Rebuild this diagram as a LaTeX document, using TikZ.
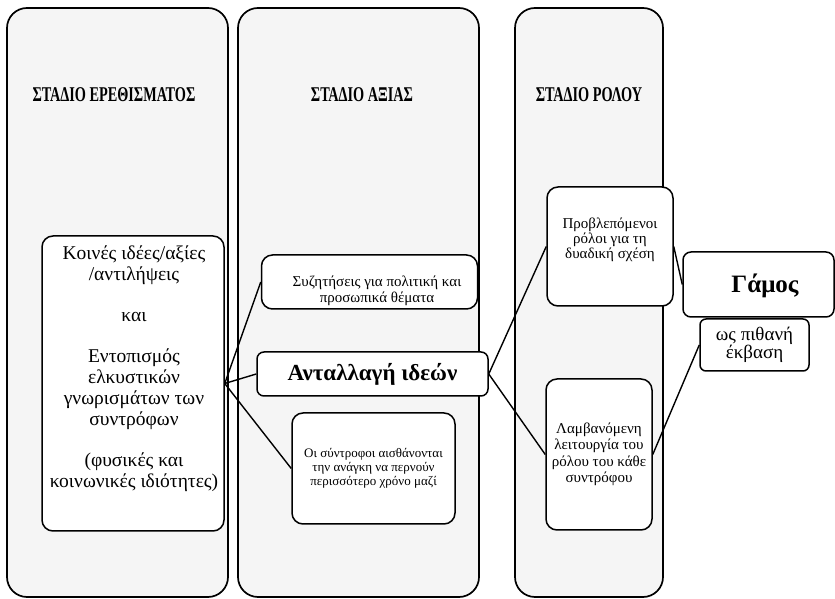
\documentclass[tikz,border=0pt]{standalone}
\usepackage{fontspec}
\setmainfont{Liberation Serif}
\usepackage{graphicx}
\newcommand{\stagename}[1]{\scalebox{0.68}[1]{#1}}

\begin{document}
\begin{tikzpicture}[x=10pt, y=10pt,
  column/.style={draw, line width=1.7pt, rounded corners=20pt, fill=gray!8, inner sep=0pt},
  card/.style={draw, line width=1.5pt, rounded corners=11pt, fill=white, inner sep=0pt, align=center},
  words/.style={align=center, inner sep=0pt},
  heading/.style={font=\bfseries\fontsize{21}{21}\selectfont},
  link/.style={line width=1.4pt}
]
  \useasboundingbox (0,0) rectangle (83.5,59.9);

  \node[column, minimum width=221pt, minimum height=589pt] (stim) at (11.75,29.65) {};
  \node[column, minimum width=241pt, minimum height=589pt] (value) at (35.85,29.65) {};
  \node[column, minimum width=148pt, minimum height=589pt] (role) at (58.9,29.65) {};

  \node[heading] (stimtitle) at (11.4,50.4) {\stagename{ΣΤΑΔΙΟ ΕΡΕΘΙΣΜΑΤΟΣ}};
  \node[heading] (valuetitle) at (36.2,50.4) {\stagename{ΣΤΑΔΙΟ ΑΞΙΑΣ}};
  \node[heading] (roletitle) at (58.9,50.4) {\stagename{ΣΤΑΔΙΟ ΡΟΛΟΥ}};

  \node[card, minimum width=182pt, minimum height=295pt] (ideas) at (13.3,21.55) {};
  \node[words, font=\fontsize{19.5}{21}\selectfont] (ideastext) at (13.4,23.0)
    {Κοινές ιδέες/αξίες\\/αντιλήψεις\\[20pt]και\\[20pt]Εντοπισμός\\ελκυστικών\\γνωρισμάτων των\\συντρόφων\\[20pt](φυσικές και\\κοινωνικές ιδιότητες)};

  \node[card, minimum width=216pt, minimum height=54pt] (talk) at (36.95,31.7) {};
  \node[words, font=\fontsize{15}{16}\selectfont] (talktext) at (37.7,30.8)
    {Συζητήσεις για πολιτική και\\προσωπικά θέματα};
  \node[card, rounded corners=7pt, minimum width=231pt, minimum height=44pt, font=\bfseries\fontsize{23}{26}\selectfont] (swap) at (37.25,22.5)
    {Ανταλλαγή ιδεών};
  \node[card, minimum width=163pt, minimum height=111pt, font=\fontsize{13}{14}\selectfont] (time) at (37.35,13.05)
    {Οι σύντροφοι αισθάνονται\\την ανάγκη να περνούν\\περισσότερο χρόνο μαζί};

  \node[card, minimum width=126pt, minimum height=119pt] (roles) at (61.0,35.25) {};
  \node[words, font=\fontsize{15}{14.7}\selectfont] (rolestext) at (61.0,35.9)
    {Προβλεπόμενοι\\ρόλοι για τη\\δυαδική σχέση};
  \node[card, minimum width=106pt, minimum height=151pt, font=\fontsize{15}{16.5}\selectfont] (func) at (59.9,14.45)
    {Λαμβανόμενη\\λειτουργία του\\ρόλου του κάθε\\συντρόφου};

  \node[card, rounded corners=8pt, minimum width=151pt, minimum height=65pt] (marriage) at (75.85,31.45) {};
  \node[words, font=\bfseries\fontsize{25}{28}\selectfont] (marriagetext) at (76.5,31.3) {Γάμος};
  \node[card, rounded corners=6pt, minimum width=109pt, minimum height=52pt, font=\fontsize{19}{18.5}\selectfont] (outcome) at (75.45,25.4)
    {ως πιθανή\\έκβαση};

  \draw[link] (ideas.east) -- (talk.west);
  \draw[link] (ideas.east) -- (swap.west);
  \draw[link] (ideas.east) -- (time.west);
  \draw[link] (swap.east) -- (roles.west);
  \draw[link] (swap.east) -- (func.west);
  \draw[link] (roles.east) -- (marriage.west);
  \draw[link] (func.east) -- (outcome.west);
\end{tikzpicture}
\end{document}
